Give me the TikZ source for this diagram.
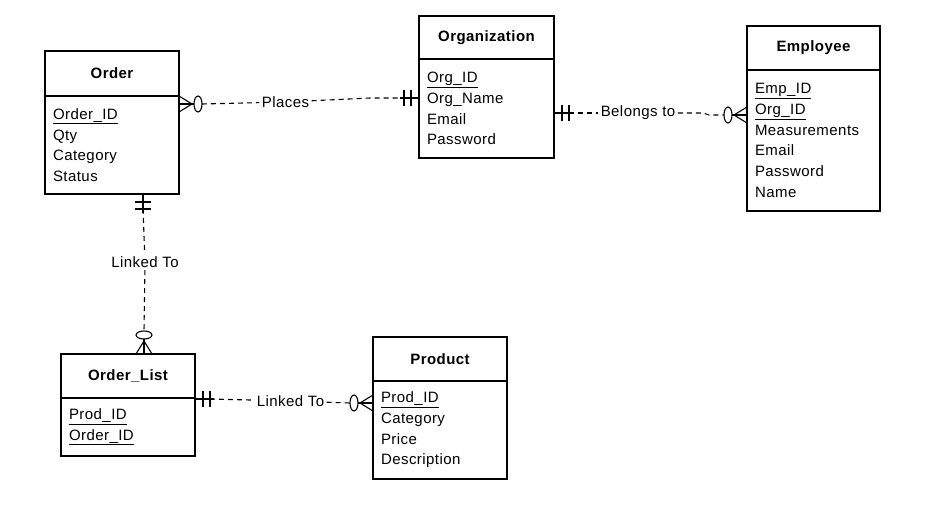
\documentclass[tikz,border=0pt]{standalone}
\usepackage{fontspec}
\setmainfont[LetterSpace=3]{Liberation Sans}
\usetikzlibrary{calc}

\tikzset{
  entity/.style={draw, inner sep=0pt, outer sep=0pt, font=\fontsize{15}{18}\selectfont\bfseries},
  attrs/.style={draw, align=left, inner xsep=8pt, inner ysep=0pt, outer sep=0pt, anchor=north,
    font=\fontsize{15}{20.7}\selectfont},
  rel/.style={dash pattern=on 5pt off 4pt},
  lbl/.style={inner sep=2pt, font=\fontsize{15}{18}\selectfont},
  % crow's foot with a zero
  many/.pic={
    \draw (0,-8) -- (13,0) -- (0,8);
    \draw (0,0) -- (15,0);
    \draw (19,0) ellipse (4pt and 8pt);
  },
  % exactly one
  one/.pic={
    \draw (0,0) -- (19,0);
    \draw (8,-8) -- (8,8);
    \draw (15,-8) -- (15,8);
  },
}

\begin{document}
\begin{tikzpicture}[x=1pt, y=-1pt, line width=1.1pt]
\useasboundingbox (0,0) rectangle (927,511);

% Entities
\node[entity, minimum width=134pt, minimum height=45pt] (order) at (112,73.5) {Order};
\node[attrs, minimum height=98pt, text width=118pt] (order-a) at (order.south)
  {\underline{Order\_ID}\\Qty\\Category\\Status};

\node[entity, minimum width=135pt, minimum height=43pt] (org) at (486.5,37.5) {Organization};
\node[attrs, minimum height=99pt, text width=119pt] (org-a) at (org.south)
  {\underline{Org\_ID}\\Org\_Name\\Email\\Password};

\node[entity, minimum width=133pt, minimum height=44pt] (emp) at (813.5,48) {Employee};
\node[attrs, minimum height=141pt, text width=117pt] (emp-a) at (emp.south)
  {\underline{Emp\_ID}\\\underline{Org\_ID}\\Measurements\\Email\\Password\\Name};

\node[entity, minimum width=134pt, minimum height=44pt] (ol) at (128,376) {Order\_List};
\node[attrs, minimum height=58pt, text width=118pt] (ol-a) at (ol.south)
  {\underline{Prod\_ID}\\\underline{Order\_ID}};

\node[entity, minimum width=134pt, minimum height=44pt] (prod) at (440,359) {Product};
\node[attrs, minimum height=98pt, text width=118pt] (prod-a) at (prod.south)
  {\underline{Prod\_ID}\\Category\\Price\\Description};

% Attachment points
\coordinate (order-r) at ($(order-a.north east)+(0,8)$);
\coordinate (org-l) at ($(org-a.north west)+(0,39)$);
\coordinate (org-r) at ($(org-a.north east)+(0,54)$);
\coordinate (emp-l) at ($(emp-a.north west)+(0,45)$);
\coordinate (order-b) at ($(order-a.south)+(31,0)$);
\coordinate (ol-t) at ($(ol.north)+(16,0)$);
\coordinate (ol-r) at ($(ol-a.north east)+(0,1)$);
\coordinate (prod-l) at ($(prod-a.north west)+(0,22)$);

% Relationship labels
\node[lbl] (places) at (285.5,102) {Places};
\node[lbl] (belongs) at (638,113) {Belongs to};
\node[lbl] (linked1) at (145,262) {Linked To};
\node[lbl] (linked2) at (290.5,401) {Linked To};

% Ends
\pic at (order-r) {many};
\pic[rotate=180] at (org-l) {one};
\pic at (org-r) {one};
\pic[rotate=180] at (emp-l) {many};
\pic[rotate=-90] at (order-b) {one};
\pic[rotate=90] at (ol-t) {many};
\pic at (ol-r) {one};
\pic[rotate=180] at (prod-l) {many};

% Dashed lines
\draw[rel] ($(order-r)+(23,0)$) -- (places);
\draw[rel] (places) -- ($(org-l)+(-49,0)$) -- ($(org-l)+(-15,0)$);
\draw[rel] ($(org-r)+(15,0)$) -- (belongs);
\draw[rel] (belongs) -- ($(emp-l)+(-44,-2)$) -- ($(emp-l)+(-38,0)$) -- ($(emp-l)+(-23,0)$);
\draw[rel] ($(order-b)+(0,15)$) -- (linked1);
\draw[rel] (linked1) -- ($(ol-t)+(0,-23)$);
\draw[rel] ($(ol-r)+(15,0)$) -- (linked2);
\draw[rel] (linked2) -- ($(prod-l)+(-23,0)$);

\end{tikzpicture}
\end{document}
